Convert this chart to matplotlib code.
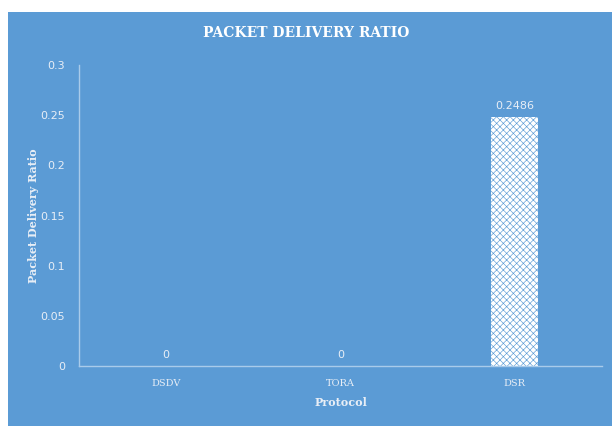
import matplotlib
matplotlib.use("Agg")
import matplotlib.pyplot as plt
from matplotlib.patches import Rectangle

categories = ["DSDV", "TORA", "DSR"]
values = [0, 0, 0.2486]
value_labels = ["0", "0", "0.2486"]
yticks = [0, 0.05, 0.1, 0.15, 0.2, 0.25, 0.3]
ytick_labels = ["0", "0.05", "0.1", "0.15", "0.2", "0.25", "0.3"]

BLUE = "#5B9BD5"
TXT = "#E8EEF6"
plt.rcParams['hatch.linewidth'] = 0.45
plt.rcParams['hatch.color'] = BLUE

fig = plt.figure(figsize=(6.12, 4.26), dpi=100)
fig.patch.set_facecolor("white")
fig.patches.append(Rectangle((8/612, 0), 1 - 8/612, 1 - 12/426, transform=fig.transFigure,
                             facecolor=BLUE, edgecolor="none", zorder=-10))

ax = fig.add_axes([79/612, 1 - 366/426, (602 - 79)/612, (366 - 65)/426])
ax.set_zorder(5)
ax.patch.set_alpha(0)

x = range(len(categories))
bars = ax.bar(x, values, width=0.27, color="white", edgecolor=BLUE, hatch="xxxxx", linewidth=0)
for xi, v, lab in zip(x, values, value_labels):
    ax.text(xi, v + 0.006, lab, ha="center", va="bottom", color=TXT, fontsize=8, family="DejaVu Sans")

ax.set_xlim(-0.5, 2.5)
ax.set_ylim(0, 0.3)
ax.set_xticks(list(x))
ax.set_xticklabels(categories, family="DejaVu Serif", fontsize=7, color=TXT)
ax.set_yticks(yticks)
ax.set_yticklabels(ytick_labels, family="DejaVu Sans", fontsize=8, color=TXT)
ax.tick_params(axis="x", length=0, pad=9)
ax.tick_params(axis="y", length=0, pad=10)
for s in ["top", "right"]:
    ax.spines[s].set_visible(False)
for s in ["left", "bottom"]:
    ax.spines[s].set_color("#A9CBEA")
    ax.spines[s].set_linewidth(1.0)

ax.set_xlabel("Protocol", family="DejaVu Serif", fontweight="bold", fontsize=8, color=TXT, labelpad=7)
ax.set_ylabel("Packet Delivery Ratio", family="DejaVu Serif", fontweight="bold", fontsize=8, color=TXT, labelpad=1)
fig.text(0.5, 1 - 33/426, "PACKET DELIVERY RATIO", ha="center", va="center",
         family="DejaVu Serif", fontweight="bold", fontsize=10, color="white")

fig.savefig("out.png", dpi=100, facecolor=fig.get_facecolor())
